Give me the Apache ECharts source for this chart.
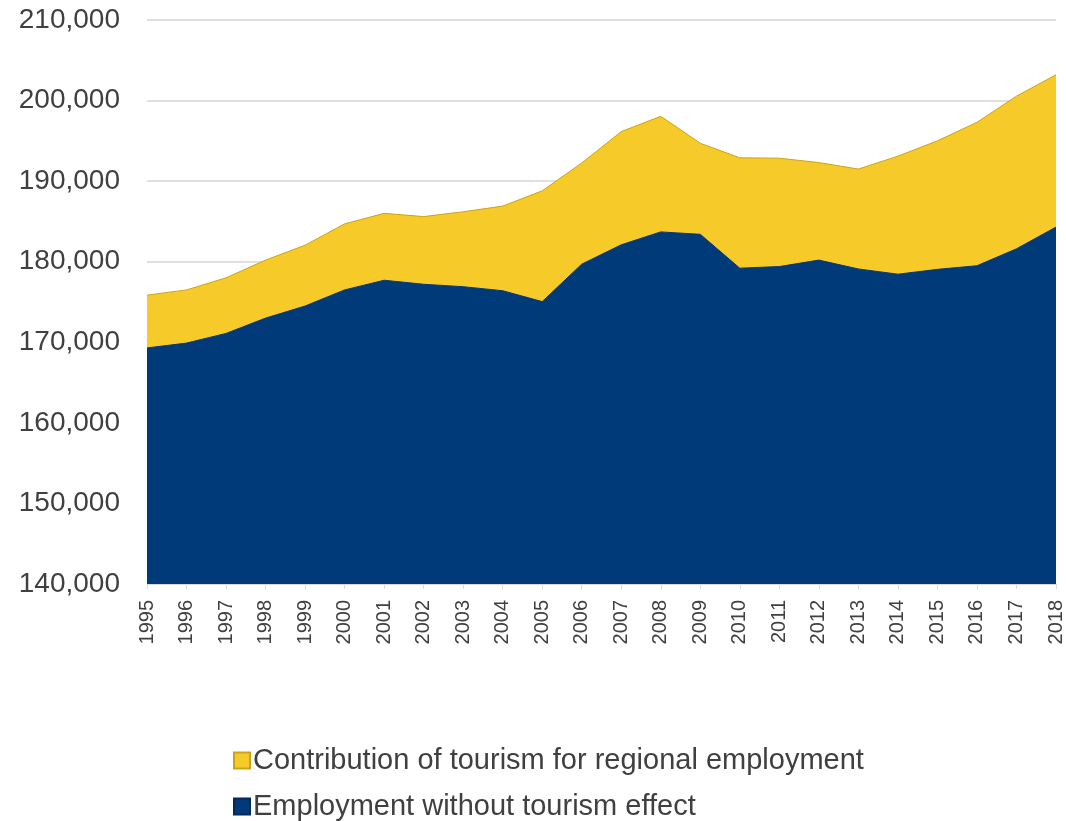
<!DOCTYPE html>
<html>
<head>
<meta charset="utf-8">
<script src="https://cdn.jsdelivr.net/npm/echarts@6/dist/echarts.min.js"></script>
<style>html,body{margin:0;padding:0;background:#fff}#c{width:1066px;height:821px}</style>
</head>
<body>
<div id="c"></div>
<script>
const years = ['1995','1996','1997','1998','1999','2000','2001','2002','2003','2004','2005','2006','2007','2008','2009','2010','2011','2012','2013','2014','2015','2016','2017','2018'];
const baseEmployment = [169300,169900,171100,173000,174500,176500,177700,177200,176900,176400,175050,179700,182100,183700,183400,179200,179400,180200,179100,178450,179050,179500,181600,184300];
const totalEmployment = [175850,176500,178000,180200,182050,184700,186000,185600,186200,186900,188800,192250,196150,198050,194700,192900,192850,192300,191500,193100,195000,197300,200550,203200];
const tourismContribution = totalEmployment.map((t, i) => t - baseEmployment[i]);
const yTicks = { min: 140000, max: 210000, interval: 10000 };
const seriesNames = ['Contribution of tourism for regional employment', 'Employment without tourism effect'];

const legendBase = {
  orient: 'vertical', left: 228, itemWidth: 16, itemHeight: 16, icon: 'rect', itemGap: 6,
  textStyle: { fontSize: 29, color: '#404040', padding: [0, 0, 0, -2] }
};

const chart = echarts.init(document.getElementById('c'));
chart.setOption({
  animation: false,
  textStyle: { fontFamily: 'Liberation Sans, Arial, sans-serif' },
  grid: { left: 147, right: 10, top: 20, bottom: 237, containLabel: false },
  legend: [
    Object.assign({}, legendBase, { top: 741, data: [seriesNames[0]] }),
    Object.assign({}, legendBase, { top: 787, data: [seriesNames[1]] })
  ],
  xAxis: {
    type: 'category', data: years, boundaryGap: false,
    axisLine: { lineStyle: { color: '#d9d9d9', width: 1 } },
    axisTick: { show: true, alignWithLabel: true, length: 5, lineStyle: { color: '#d9d9d9' } },
    axisLabel: { rotate: 90, fontSize: 20, color: '#404040', margin: 16, interval: 0 },
    splitLine: { show: false }
  },
  yAxis: {
    type: 'value', min: yTicks.min, max: yTicks.max, interval: yTicks.interval,
    axisLine: { show: false }, axisTick: { show: false },
    axisLabel: { fontSize: 28, color: '#404040', margin: 27,
      formatter: v => v.toLocaleString('en-US') },
    splitLine: { lineStyle: { color: '#e0e0e0', width: 2 } }
  },
  series: [
    {
      name: seriesNames[1], type: 'line', stack: 'total', data: baseEmployment,
      symbol: 'none', z: 2,
      lineStyle: { color: '#0a3470', width: 1 },
      itemStyle: { color: '#003a78', borderColor: '#002a5a', borderWidth: 1 },
      areaStyle: { color: '#003a78', opacity: 1 }
    },
    {
      name: seriesNames[0], type: 'line', stack: 'total', data: tourismContribution,
      symbol: 'none', z: 1,
      lineStyle: { color: '#c9a41a', width: 1 },
      itemStyle: { color: '#f6cb29', borderColor: '#c9a41a', borderWidth: 1 },
      areaStyle: { color: '#f6cb29', opacity: 1 }
    }
  ]
});
</script>
</body>
</html>
